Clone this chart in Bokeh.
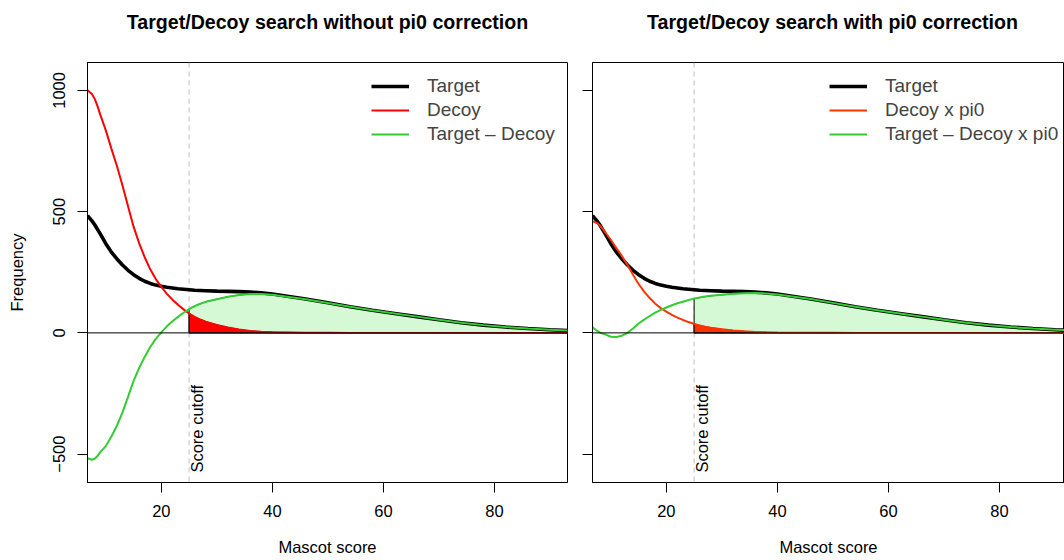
import math
from bokeh.plotting import figure
from bokeh.models import Span, Label, FixedTicker, Legend, LegendItem, Range1d
from bokeh.layouts import row, column
from bokeh.embed import file_html
from bokeh.resources import INLINE

# ---------------- data ----------------
score = [6.7, 7.5, 8, 8.5, 9, 10, 11, 12, 13, 14, 15, 16, 17, 18, 19, 20, 21, 22, 23,
         24, 25, 26, 27, 28, 30, 32, 34, 36, 38, 40, 43, 46, 50, 54, 58, 62, 66, 70,
         74, 78, 82, 86, 90, 93.2]
target = [483, 462, 446, 427, 408, 368, 333, 305, 280, 258, 240, 225, 213, 204, 197,
          192, 188, 185, 182, 180, 178, 176, 175, 174, 172, 171, 170, 168, 165, 160,
          150, 140, 124, 108, 93, 80, 67, 54, 42, 32, 24, 18, 13, 10]
decoy = [1000, 985, 965, 935, 900, 835, 760, 688, 608, 522, 438, 370, 312, 262, 222,
         190, 161, 137, 116, 97, 80, 66, 55, 46, 33, 22, 14, 8, 5, 3, 2, 1, 0.5, 0,
         0, 0, 0, 0, 0, 0, 0, 0, 0, 0]
pi0 = 0.46
score_cutoff = 25
x_ticks = [20, 40, 60, 80]
y_ticks = [-500, 0, 500, 1000]
titles = ["Target/Decoy search without pi0 correction",
          "Target/Decoy search with pi0 correction"]
legend_labels = [["Target", "Decoy", "Target \u2013 Decoy"],
                 ["Target", "Decoy x pi0", "Target \u2013 Decoy x pi0"]]
x_label = "Mascot score"
y_label = "Frequency"
cutoff_text = "Score cutoff"

FONT = "Liberation Sans"
GREEN = "#33CC33"
FILL_GREEN = "#D4F9D4"
TITLE_H = 40


def make_title(text, width, center_x):
    t = figure(width=width, height=TITLE_H, x_range=Range1d(0, width),
               y_range=Range1d(0, TITLE_H), output_backend="svg",
               toolbar_location=None, x_axis_type=None, y_axis_type=None,
               min_border=0, outline_line_color=None,
               background_fill_color="white", border_fill_color="white")
    t.xgrid.visible = False
    t.ygrid.visible = False
    t.add_layout(Label(x=center_x, y=TITLE_H - 32.7, text=text,
                       text_align="center", text_baseline="bottom",
                       text_font=FONT, text_font_size="19.6px",
                       text_font_style="bold", text_color="black"))
    return t


def make_panel(dec, red, labels, width, left_border, right_border,
               x_end, show_y_labels):
    p = figure(width=width, height=560 - TITLE_H, x_range=Range1d(6.7, x_end),
               y_range=Range1d(-617, 1115), output_backend="svg",
               toolbar_location=None, min_border_left=left_border,
               min_border_right=right_border, min_border_top=62 - TITLE_H,
               min_border_bottom=78, background_fill_color="white",
               border_fill_color="white")
    p.xgrid.visible = False
    p.ygrid.visible = False
    p.outline_line_color = "black"
    p.outline_line_width = 1

    for ax in (p.xaxis[0], p.yaxis[0]):
        ax.major_tick_in = 0
        ax.major_tick_out = 10
        ax.minor_tick_in = 0
        ax.minor_tick_out = 0
        ax.axis_line_color = "black"
        ax.major_tick_line_color = "black"
        ax.major_label_text_font = FONT
        ax.major_label_text_font_size = "16.5px"
        ax.major_label_text_color = "black"
        ax.axis_label_text_font = FONT
        ax.axis_label_text_font_size = "16.5px"
        ax.axis_label_text_font_style = "normal"
        ax.axis_label_text_color = "black"

    p.xaxis.ticker = FixedTicker(ticks=x_ticks)
    p.xaxis.major_label_standoff = 12
    p.xaxis.axis_label = x_label
    p.xaxis.axis_label_standoff = 18

    p.yaxis.ticker = FixedTicker(ticks=y_ticks)
    if show_y_labels:
        p.yaxis.major_label_orientation = "vertical"
        p.yaxis.major_label_standoff = 12
        p.yaxis.axis_label = y_label
        p.yaxis.axis_label_standoff = 25
    else:
        p.yaxis.major_label_overrides = {t: "" for t in y_ticks}
        p.yaxis.major_label_standoff = 0

    diff = [t - d for t, d in zip(target, dec)]

    # cutoff dashed line (under everything)
    p.add_layout(Span(location=score_cutoff, dimension="height",
                      line_color="#BEBEBE", line_dash="5 4", line_width=1,
                      level="underlay"))

    idx = [i for i, s in enumerate(score) if s >= score_cutoff]
    xs = [score[i] for i in idx]
    gx = xs + xs[::-1]
    gy = [diff[i] for i in idx] + [0] * len(idx)
    p.patch(gx, gy, fill_color=FILL_GREEN, line_color="black", line_width=1)
    ry = [dec[i] for i in idx] + [0] * len(idx)
    p.patch(gx, ry, fill_color=red, line_color="black", line_width=1)

    r_t = p.line(score, target, line_color="black", line_width=3.6)
    r_d = p.line(score, dec, line_color=red, line_width=2)
    r_g = p.line(score, diff, line_color=GREEN, line_width=2)

    p.add_layout(Span(location=0, dimension="width", line_color="black",
                      line_width=1))

    p.add_layout(Label(x=score_cutoff, y=-576, text=cutoff_text,
                       angle=math.pi / 2, text_align="left",
                       text_baseline="top", x_offset=-1,
                       text_font=FONT, text_font_size="16.5px",
                       text_color="black"))

    leg = Legend(items=[LegendItem(label=labels[0], renderers=[r_t]),
                        LegendItem(label=labels[1], renderers=[r_d]),
                        LegendItem(label=labels[2], renderers=[r_g])],
                 location=(0, 0))
    leg.label_text_font = FONT
    leg.label_text_font_size = "19px"
    leg.glyph_width = 38
    leg.glyph_height = 24
    leg.label_height = 24
    leg.label_standoff = 18
    leg.spacing = 0
    leg.padding = 0
    leg.margin = 0
    leg.border_line_color = None
    leg.background_fill_alpha = 0
    return p, leg


p1, leg1 = make_panel(decoy, "#FF0000", legend_labels[0],
                      572, 87, 5, 93.15, True)
leg1.location = (284, 336)
p1.add_layout(leg1)

dec_pi0 = [d * pi0 for d in decoy]
p2, leg2 = make_panel(dec_pi0, "#FF3300", legend_labels[1],
                      492, 20, 0, 91.7, False)
leg2.location = (237, 336)
p2.add_layout(leg2)

t1 = make_title(titles[0], 572, 87 + 240)
t2 = make_title(titles[1], 492, 20 + 240)

layout = column(row(t1, t2), row(p1, p2))
open("out.html", "w").write(file_html(layout, INLINE))
